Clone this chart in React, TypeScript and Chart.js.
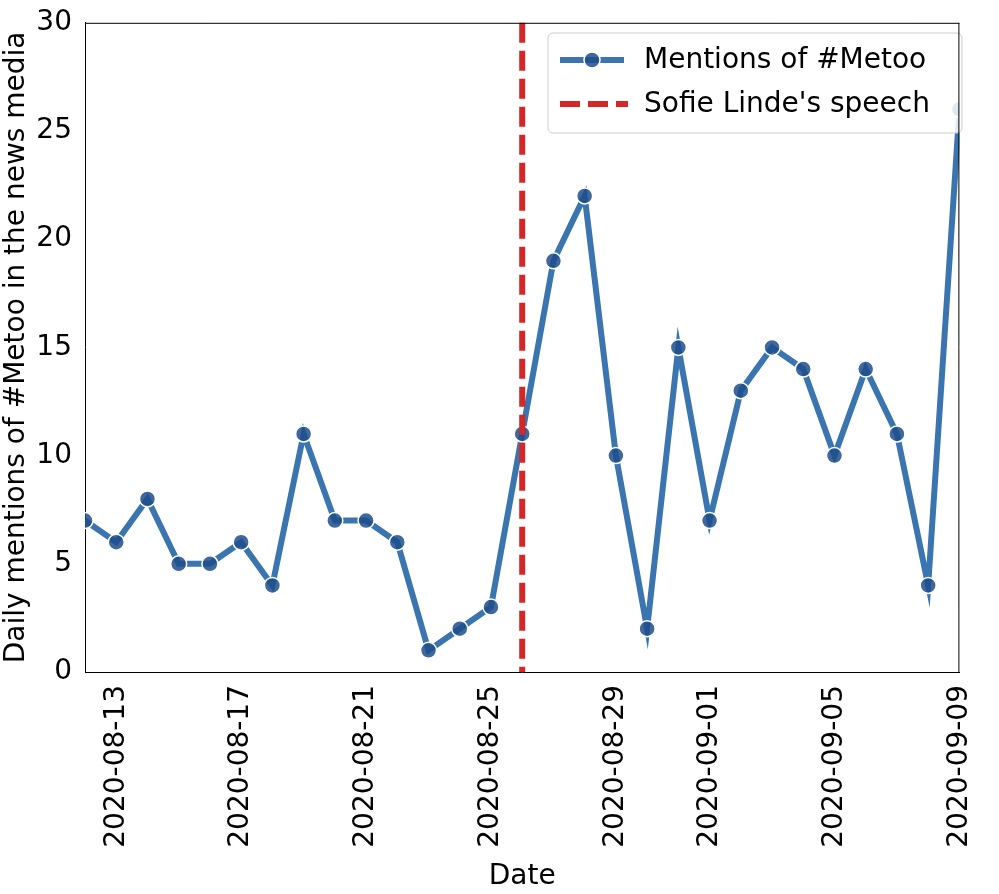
import React, { useEffect, useRef } from 'react';
import { Chart, registerables } from 'chart.js';

Chart.register(...registerables);

const dates = [
	'2020-08-12', '2020-08-13', '2020-08-14', '2020-08-15', '2020-08-16', '2020-08-17', '2020-08-18',
	'2020-08-19', '2020-08-20', '2020-08-21', '2020-08-22', '2020-08-23', '2020-08-24', '2020-08-25',
	'2020-08-26', '2020-08-27', '2020-08-28', '2020-08-29', '2020-08-30', '2020-08-31', '2020-09-01',
	'2020-09-02', '2020-09-03', '2020-09-04', '2020-09-05', '2020-09-06', '2020-09-07', '2020-09-08',
	'2020-09-09',
];
const mentions = [7, 6, 8, 5, 5, 6, 4, 11, 7, 7, 6, 1, 2, 3, 11, 19, 22, 10, 2, 15, 7, 13, 15, 14, 10, 14, 11, 4, 26];
const tickDates = ['2020-08-13', '2020-08-17', '2020-08-21', '2020-08-25', '2020-08-29', '2020-09-01', '2020-09-05', '2020-09-09'];
const speechDate = '2020-08-26';

const FONT = "'DejaVu Sans', sans-serif";
const LINE = '#3a75b0';
const RED = '#d62728';

const App: React.FC = () => {
	const chartRef = useRef<HTMLCanvasElement | null>(null);
	const chartInstanceRef = useRef<Chart | null>(null);

	useEffect(() => {
		document.body.style.margin = '0';
		if (!chartRef.current) return;
		const ctx = chartRef.current.getContext('2d');
		if (!ctx) return;

		const points = mentions.map((v, i) => ({ x: i, y: v }));
		const tickIdx = tickDates.map((d) => dates.indexOf(d));
		const speechIdx = dates.indexOf(speechDate);

		// speech line + legend box
		const overlay = {
			id: 'overlay',
			afterDatasetsDraw(chart: any) {
				const c = chart.ctx;
				const { top, bottom } = chart.chartArea;
				const x = chart.scales.x.getPixelForValue(speechIdx);
				c.save();
				c.strokeStyle = RED;
				c.lineWidth = 6;
				c.setLineDash([20, 8]);
				c.beginPath();
				c.moveTo(x, top);
				c.lineTo(x, bottom);
				c.stroke();
				c.setLineDash([]);

				// legend
				const bx = 548, by = 33, bw = 414, bh = 100;
				c.fillStyle = 'rgba(255,255,255,0.85)';
				c.strokeStyle = '#cccccc';
				c.lineWidth = 1;
				c.beginPath();
				c.roundRect(bx, by, bw, bh, 5);
				c.fill();
				c.stroke();

				c.strokeStyle = LINE;
				c.lineWidth = 6;
				c.beginPath();
				c.moveTo(560, 60);
				c.lineTo(624, 60);
				c.stroke();
				c.fillStyle = 'rgba(31,78,140,0.85)';
				c.strokeStyle = '#ffffff';
				c.lineWidth = 1.5;
				c.beginPath();
				c.arc(592, 60, 8, 0, Math.PI * 2);
				c.fill();
				c.stroke();

				c.strokeStyle = RED;
				c.lineWidth = 6;
				c.setLineDash([20, 8]);
				c.beginPath();
				c.moveTo(560, 104);
				c.lineTo(628, 104);
				c.stroke();
				c.setLineDash([]);

				c.fillStyle = '#000';
				c.font = `28px ${FONT}`;
				c.textBaseline = 'middle';
				c.fillText('Mentions of #Metoo', 644, 61);
				c.fillText("Sofie Linde's speech", 644, 105);
				c.restore();
			},
		};

		if (chartInstanceRef.current) chartInstanceRef.current.destroy();

		chartInstanceRef.current = new Chart(ctx, {
			type: 'line',
			data: {
				datasets: [
					{
						data: points,
						borderColor: LINE,
						borderWidth: 6,
						pointRadius: 8,
						pointBackgroundColor: 'rgba(31,78,140,0.85)',
						pointBorderColor: '#ffffff',
						pointBorderWidth: 1.5,
						tension: 0,
					},
				],
			},
			options: {
				animation: false,
				responsive: false,
				layout: { padding: { top: 20, right: 21, left: 0, bottom: 0 } },
				plugins: { legend: { display: false }, tooltip: { enabled: false } },
				scales: {
					x: {
						type: 'linear',
						min: 0,
						max: dates.length - 1,
						afterBuildTicks: (axis: any) => {
							axis.ticks = tickIdx.map((v) => ({ value: v }));
						},
						afterFit: (axis: any) => {
							axis.height = 222;
						},
						ticks: {
							autoSkip: false,
							maxRotation: 90,
							minRotation: 90,
							color: '#000',
							padding: 6,
							font: { family: FONT, size: 28 },
							callback: (v: any) => dates[v as number],
						},
						grid: { display: false, drawTicks: true, tickLength: 7, tickColor: '#000' },
						border: { color: '#000', width: 1 },
						title: { display: true, text: 'Date', color: '#000', font: { family: FONT, size: 28 }, padding: 0 },
					},
					y: {
						min: 0,
						max: 30,
						afterFit: (axis: any) => {
							axis.width = 85;
						},
						ticks: { stepSize: 5, color: '#000', padding: 6, font: { family: FONT, size: 28 } },
						grid: { display: false, drawTicks: true, tickLength: 7, tickColor: '#000' },
						border: { color: '#000', width: 1 },
						title: {
							display: true,
							text: 'Daily mentions of #Metoo in the news media',
							color: '#000',
							font: { family: FONT, size: 28 },
							padding: 0,
						},
					},
				},
			},
			plugins: [
				overlay,
				{
					id: 'frame',
					afterDraw(chart: any) {
						const { left, right, top, bottom } = chart.chartArea;
						const c = chart.ctx;
						c.save();
						c.strokeStyle = '#000';
						c.lineWidth = 1;
						c.beginPath();
						c.moveTo(left, top + 0.5);
						c.lineTo(right, top + 0.5);
						c.moveTo(right - 0.5, top);
						c.lineTo(right - 0.5, bottom);
						c.stroke();
						c.restore();
					},
				},
			],
		} as any);

		return () => {
			if (chartInstanceRef.current) {
				chartInstanceRef.current.destroy();
				chartInstanceRef.current = null;
			}
		};
	}, []);

	return (
		<div style={{ width: 999, height: 894 }}>
			<canvas ref={chartRef} width={999} height={894} style={{ width: 999, height: 894 }} />
		</div>
	);
};

export default App;
